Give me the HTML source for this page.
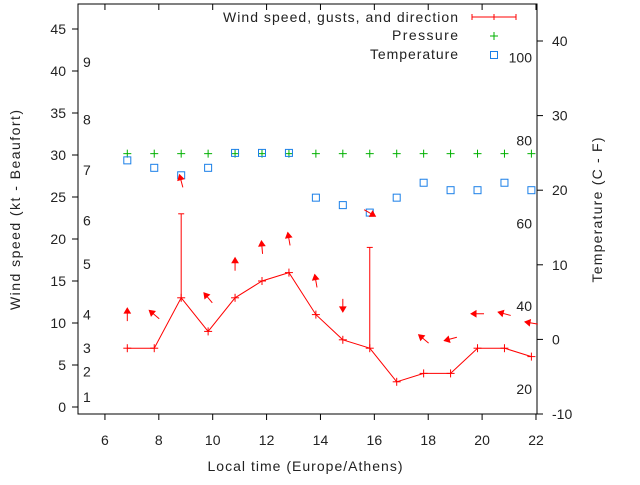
<!DOCTYPE html>
<html><head><meta charset="utf-8"><style>
body{margin:0;background:#fff;}
svg text{font-family:"Liberation Sans",sans-serif;font-size:14px;fill:#222;}
</style></head><body>
<svg id="chart" width="640" height="480" viewBox="0 0 640 480" xmlns="http://www.w3.org/2000/svg"></svg>
<script>
const hours=[6.83,7.83,8.83,9.83,10.83,11.83,12.83,13.83,14.83,15.83,16.83,17.83,18.83,19.83,20.83,21.83];
const windSpeed=[7,7,13,9,13,15,16,11,8,7,3,4,4,7,7,6];
const gusts=[null,null,23,null,null,null,null,null,null,19,null,null,null,null,null,null];
const arrowDir=[0,310,345,320,0,355,350,350,180,120,null,310,255,270,285,280];
const arrowLevel=[11,11,26.9,13,17,19,20,15,12.1,23.1,null,8.1,8.1,11.1,11.1,10];
const pressure=[24.9,24.9,24.9,24.9,24.9,24.9,24.9,24.9,24.9,24.9,24.9,24.9,24.9,24.9,24.9,24.9];
const temperature=[24,23,22,23,25,25,25,19,18,17,19,21,20,20,21,20];
const xTicks=[6,8,10,12,14,16,18,20,22];
const yTicks=[0,5,10,15,20,25,30,35,40,45];
const y2Ticks=[-10,0,10,20,30,40];
const beaufort=[[1,1.2],[2,4.2],[3,7],[4,11],[5,17],[6,22.2],[7,28.2],[8,34.2],[9,41.1]];
const fahrenheit=[20,40,60,80,100];

const L=78,R=537,T=4,B=414;
const X=h=>L+(h-5)*26.94;
const Y=v=>407-v*8.4;
const Y2=t=>339.4-t*7.46;
const svg=document.getElementById('chart');
const NS='http://www.w3.org/2000/svg';
function mk(tag,attrs,parent){const e=document.createElementNS(NS,tag);for(const k in attrs)e.setAttribute(k,attrs[k]);(parent||svg).appendChild(e);return e;}
function txt(s,x,y,anchor,parent){const t=mk('text',{x:x,y:y,'text-anchor':anchor||'start'},parent);t.textContent=s;return t;}

const frame=mk('rect',{x:L,y:T,width:R-L,height:B-T,fill:'none',stroke:'#000','stroke-width':1});



xTicks.forEach(h=>{
  mk('line',{x1:X(h),x2:X(h),y1:B,y2:B+6,stroke:'#000'});
  mk('line',{x1:X(h),x2:X(h),y1:T,y2:T+6,stroke:'#000'});
  const t=txt(String(h),X(h),445,'middle');
  
  
});
yTicks.forEach(v=>{
  mk('line',{x1:L-6,x2:L,y1:Y(v),y2:Y(v),stroke:'#000'});
  const t=txt(String(v),66,Y(v)+5,'end');
  
  
});
y2Ticks.forEach(v=>{
  mk('line',{x1:R,x2:R+6,y1:Y2(v),y2:Y2(v),stroke:'#000'});
  const t=txt(String(v),552,Y2(v)+5,'start');
  
  
});
beaufort.forEach(b=>{
  const t=txt(String(b[0]),83,Y(b[1])+5,'start');
  
  
});
fahrenheit.forEach(f=>{
  const t=txt(String(f),532,Y2((f-32)*5/9)+5,'end');
  
  
});

const xt=txt('Local time (Europe/Athens)',305,471,'middle');
xt.setAttribute('textLength','195');


const yt=txt('Wind speed (kt - Beaufort)',0,0,'middle');
yt.setAttribute('textLength','200');
yt.setAttribute('transform','translate(20,210) rotate(-90)');


const y2t=txt('Temperature (C - F)',0,0,'middle');
y2t.setAttribute('textLength','145');
y2t.setAttribute('transform','translate(602,210) rotate(-90)');



pressure.forEach((p,i)=>{
  const g=mk('g',{stroke:'#00b000','stroke-width':1});
  
  
  const x=X(hours[i]),y=Y2(p);
  mk('line',{x1:x-4,x2:x+4,y1:y,y2:y},g);mk('line',{x1:x,x2:x,y1:y-4,y2:y+4},g);
});
temperature.forEach((t,i)=>{
  const r=mk('rect',{x:X(hours[i])-3.5,y:Y2(t)-3.5,width:7,height:7,fill:'none',stroke:'#1a7fe8','stroke-width':1});
  
  
});
const wl=mk('polyline',{points:windSpeed.map((v,i)=>X(hours[i])+','+Y(v)).join(' '),fill:'none',stroke:'#f00','stroke-width':1});


windSpeed.forEach((v,i)=>{
  const g=mk('g',{stroke:'#f00','stroke-width':1});
  
  
  const x=X(hours[i]),y=Y(v);
  mk('line',{x1:x-4,x2:x+4,y1:y,y2:y},g);mk('line',{x1:x,x2:x,y1:y-4,y2:y+4},g);
  if(gusts[i]!=null){
    mk('line',{x1:x,x2:x,y1:y,y2:Y(gusts[i])},g);
    mk('line',{x1:x-3,x2:x+3,y1:Y(gusts[i]),y2:Y(gusts[i])},g);
  }
});
arrowDir.forEach((d,i)=>{
  if(d==null)return;
  const cx=X(hours[i]),cy=Y(arrowLevel[i]);
  const a=d*Math.PI/180,dx=Math.sin(a),dy=-Math.cos(a);
  const hx=cx+dx*6.5,hy=cy+dy*6.5,tx=cx-dx*6.5,ty=cy-dy*6.5;
  const g=mk('g',{stroke:'#f00',fill:'#f00','stroke-width':1});
  
  
  mk('line',{x1:tx,y1:ty,x2:hx,y2:hy},g);
  const px=-dy,py=dx;
  const bx=hx-dx*5,by=hy-dy*5;
  mk('polygon',{points:hx+','+hy+' '+(bx+px*3)+','+(by+py*3)+' '+(bx-px*3)+','+(by-py*3)},g);
});

const lg=mk('g',{});


const l1=txt('Wind speed, gusts, and direction',458,22,'end',lg);
l1.setAttribute('textLength','235');


mk('line',{x1:472,x2:516,y1:17,y2:17,stroke:'#f00'},lg);
[472,494,516].forEach(x=>mk('line',{x1:x,x2:x,y1:14,y2:20,stroke:'#f00'},lg));
const l2=txt('Pressure',458,40,'end',lg);
l2.setAttribute('textLength','66');


mk('line',{x1:490,x2:498,y1:36,y2:36,stroke:'#00b000'},lg);mk('line',{x1:494,x2:494,y1:32,y2:40,stroke:'#00b000'},lg);
const l3=txt('Temperature',458,59,'end',lg);
l3.setAttribute('textLength','88');


mk('rect',{x:490.5,y:51.5,width:7,height:7,fill:'none',stroke:'#1a7fe8'},lg);
</script>
</body></html>
